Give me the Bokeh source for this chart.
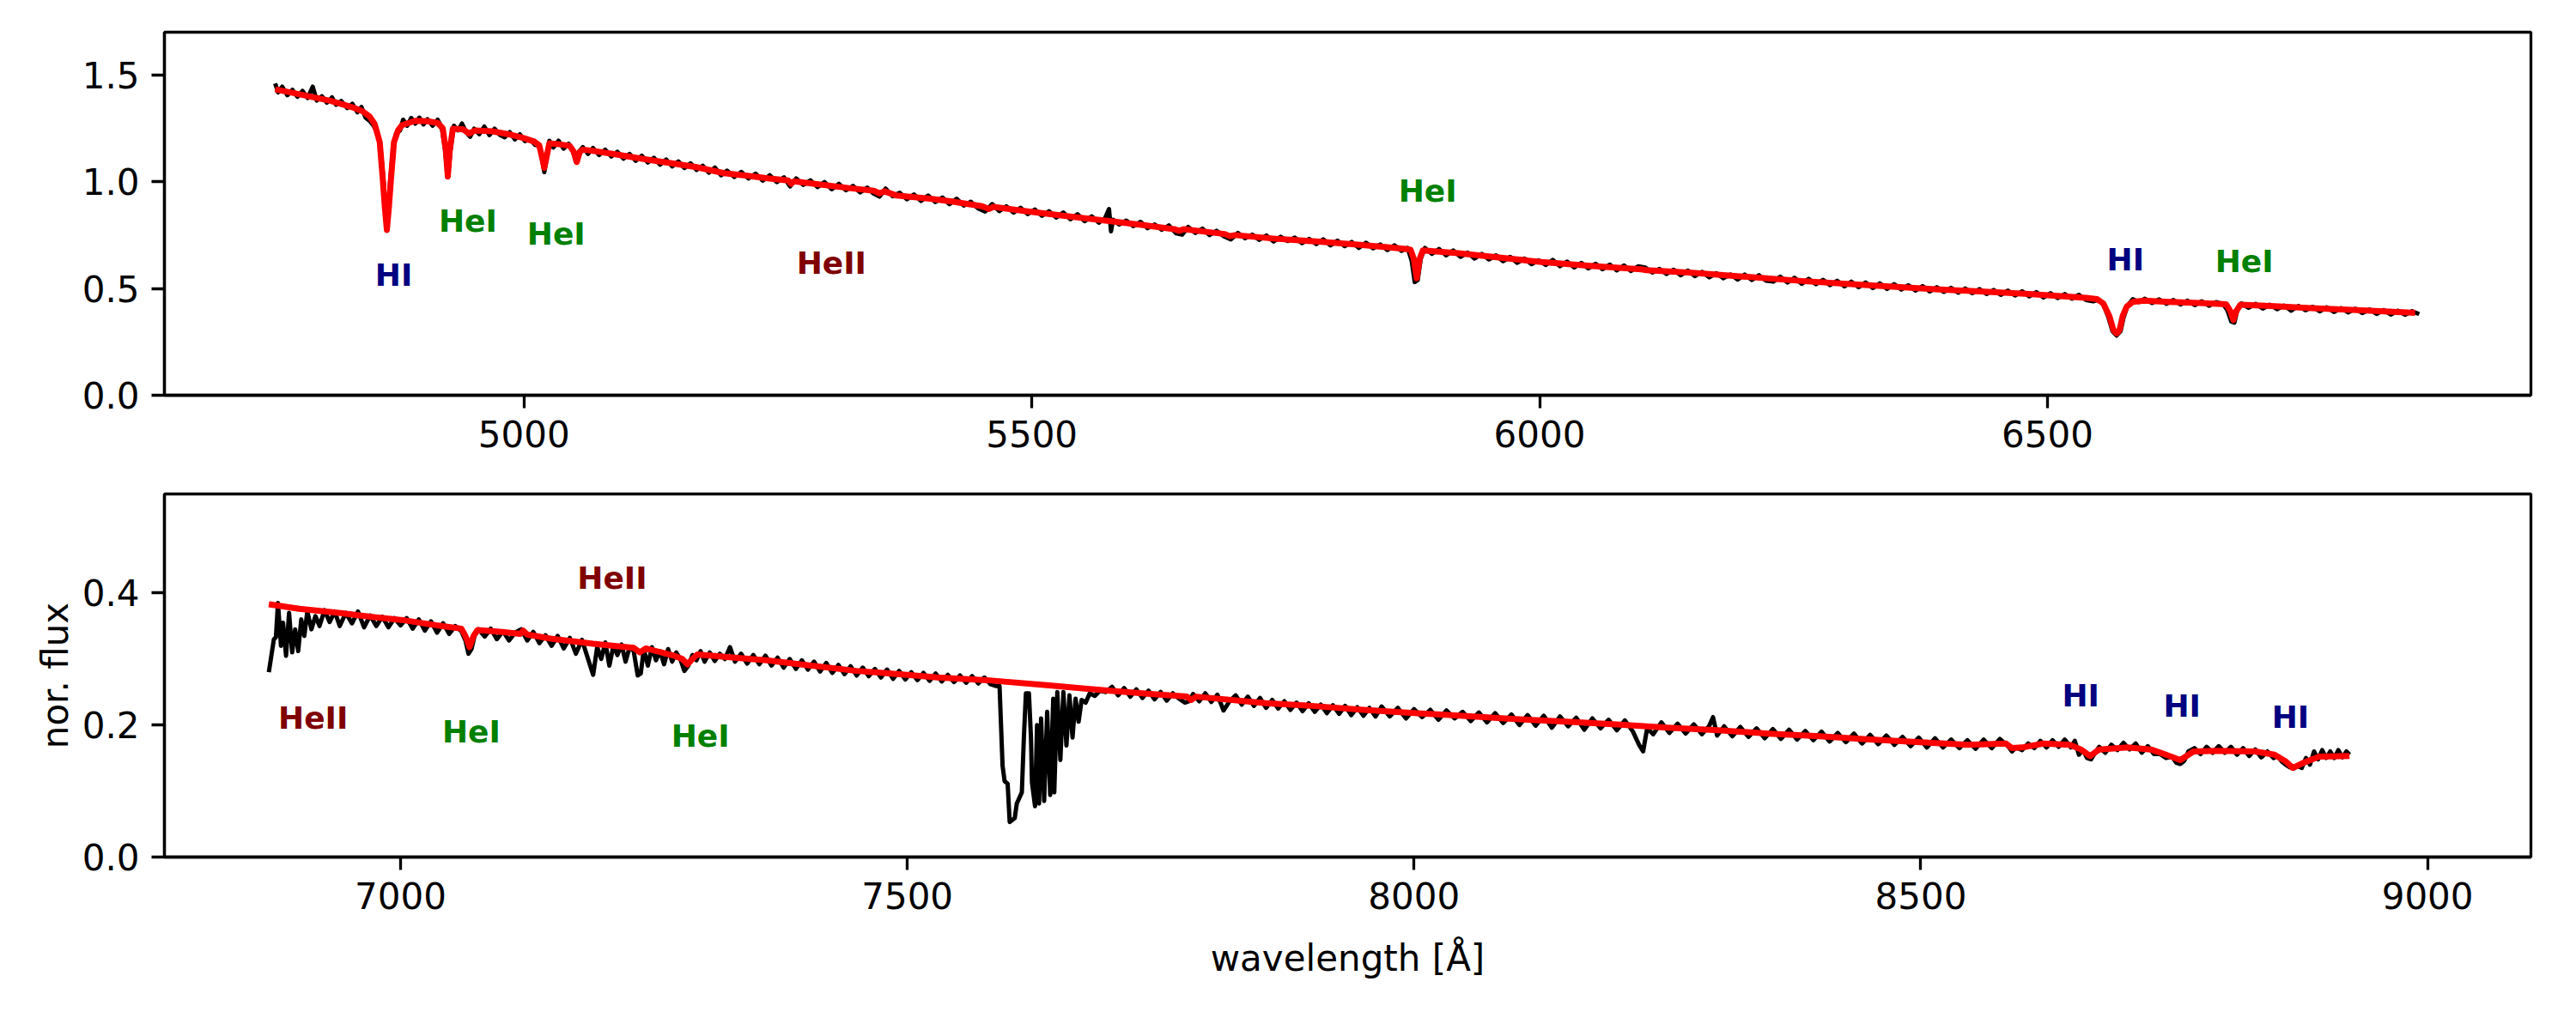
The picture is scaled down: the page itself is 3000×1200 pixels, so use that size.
from bokeh.plotting import figure
from bokeh.layouts import column
from bokeh.models import ColumnDataSource, FixedTicker, NumeralTickFormatter, Range1d
from bokeh.core.properties import value
from bokeh.embed import file_html
from bokeh.resources import INLINE

# ---------------- data: upper panel (observed spectrum, black) ----------------
top_obs_wl = [
    4755, 4758, 4762, 4767, 4772, 4777, 4782, 4787, 4792, 4796, 4801, 4806, 4811, 4815, 4820, 4826, 4831, 4836, 4840,
    4844, 4848, 4852, 4856, 4859, 4862, 4865, 4868, 4871, 4874, 4878, 4881, 4885,
    4889, 4893, 4897, 4901, 4905, 4910, 4915, 4919,
    4922, 4925, 4928, 4931,
    4935, 4939, 4943, 4947, 4951, 4956, 4961, 4966, 4971, 4976, 4981, 4986, 4991, 4996, 5001, 5006, 5011, 5015,
    5018, 5020, 5022,
    5025, 5029, 5034, 5039, 5044, 5048, 5051, 5054, 5058,
    5063, 5068, 5074, 5080, 5086, 5092, 5098, 5104, 5110, 5116, 5122, 5128, 5134, 5140, 5146, 5152, 5158, 5164,
    5170, 5176, 5182, 5188, 5194, 5200,
    5207, 5214, 5221, 5228, 5235, 5242, 5249, 5256, 5262, 5268, 5275, 5282, 5289, 5296, 5303, 5310, 5317, 5324,
    5331, 5338, 5344, 5350,
    5356, 5363, 5370, 5377, 5384, 5391, 5398, 5405, 5412, 5419, 5426, 5433, 5440, 5447, 5454, 5461, 5468, 5475,
    5482, 5489, 5496, 5503, 5510, 5517, 5524, 5531, 5538, 5545, 5552, 5559, 5566,
    5572, 5576, 5578, 5580, 5586, 5593, 5600, 5607, 5614, 5621, 5628, 5635, 5642, 5648, 5654, 5661, 5668, 5675,
    5682, 5689, 5696, 5703, 5710, 5717, 5724, 5731, 5738, 5745, 5752, 5759, 5766, 5773, 5780, 5787, 5794, 5801,
    5808, 5815, 5822, 5829, 5836, 5843, 5850, 5857, 5864,
    5870, 5874, 5877, 5880, 5883,
    5887, 5894, 5901, 5908, 5915, 5922, 5929, 5936, 5943, 5950, 5957, 5964, 5971, 5978, 5985, 5992, 5999, 6006,
    6013, 6020, 6027, 6034, 6041, 6048, 6055, 6062, 6069, 6076, 6083, 6090, 6097, 6104, 6111,
    6118, 6125, 6132, 6139, 6146, 6153, 6160, 6167, 6174, 6181, 6188, 6195, 6202, 6209, 6216, 6223, 6230, 6237,
    6244, 6251, 6258, 6265, 6272, 6279, 6286, 6293, 6300, 6307, 6314, 6321, 6328, 6335, 6342, 6349, 6356, 6363,
    6370, 6377,
    6384, 6391, 6398, 6405, 6412, 6419, 6426, 6433, 6440, 6447, 6454, 6461, 6468, 6475, 6482, 6489, 6496, 6503,
    6510, 6517, 6524, 6531, 6538, 6545,
    6550, 6555, 6560, 6564, 6568, 6572, 6575, 6579, 6584,
    6590, 6596, 6603, 6610, 6617, 6624, 6631, 6638, 6645, 6652, 6659, 6666, 6673,
    6677, 6681, 6684, 6687, 6691,
    6698, 6705, 6712, 6719, 6726, 6733, 6740, 6747, 6754, 6761, 6768, 6775, 6782, 6789, 6796, 6803, 6810, 6817,
    6824, 6831, 6838, 6845, 6852, 6859, 6866]
top_obs_flux = [
    1.460, 1.418, 1.445, 1.405, 1.430, 1.398, 1.425, 1.392, 1.445, 1.380, 1.400, 1.370, 1.395, 1.360, 1.378, 1.345, 1.365, 1.325, 1.350,
    1.300, 1.285, 1.262, 1.225, 1.150, 0.990, 0.770, 0.990, 1.150, 1.225, 1.240, 1.290, 1.262,
    1.298, 1.272, 1.300, 1.268, 1.292, 1.262, 1.290, 1.255,
    1.160, 1.020, 1.160, 1.262,
    1.240, 1.272, 1.232, 1.210, 1.248, 1.222, 1.258, 1.218, 1.248, 1.220, 1.208, 1.232, 1.198, 1.222, 1.190, 1.198, 1.172, 1.168,
    1.100, 1.045, 1.100,
    1.192, 1.160, 1.192, 1.155, 1.178, 1.145, 1.095, 1.140, 1.162,
    1.130, 1.158, 1.125, 1.150, 1.118, 1.140, 1.108, 1.130, 1.098, 1.122, 1.090, 1.112, 1.080, 1.104, 1.072, 1.095, 1.064, 1.086,
    1.055, 1.075, 1.042, 1.066, 1.030, 1.052,
    1.022, 1.046, 1.015, 1.038, 1.005, 1.030, 0.998, 1.020, 0.978, 1.015, 0.985, 1.006, 0.975, 0.998, 0.965, 0.990, 0.960, 0.980,
    0.950, 0.972, 0.945, 0.930,
    0.968, 0.932, 0.948, 0.918, 0.940, 0.910, 0.935, 0.905, 0.926, 0.895, 0.920, 0.888, 0.906, 0.875, 0.860, 0.895, 0.862, 0.885,
    0.855, 0.878, 0.848, 0.870, 0.840, 0.862, 0.832, 0.856, 0.824, 0.848, 0.815, 0.838, 0.808,
    0.828, 0.872, 0.768, 0.822, 0.800, 0.818, 0.792, 0.812, 0.782, 0.800, 0.775, 0.795, 0.758, 0.752, 0.788, 0.760, 0.780, 0.750,
    0.770, 0.745, 0.730, 0.760, 0.735, 0.752, 0.728, 0.748, 0.720, 0.742, 0.722, 0.738, 0.712, 0.732, 0.708, 0.730, 0.702, 0.724,
    0.698, 0.718, 0.690, 0.714, 0.688, 0.706, 0.680, 0.702, 0.676,
    0.690, 0.630, 0.530, 0.540, 0.640,
    0.690, 0.662, 0.685, 0.655, 0.678, 0.648, 0.668, 0.640, 0.662, 0.636, 0.655, 0.628, 0.648, 0.620, 0.640, 0.614, 0.632, 0.610,
    0.634, 0.604, 0.626, 0.598, 0.620, 0.594, 0.616, 0.590, 0.612, 0.585, 0.608, 0.582, 0.604, 0.598, 0.575,
    0.592, 0.568, 0.588, 0.562, 0.584, 0.558, 0.578, 0.552, 0.572, 0.548, 0.566, 0.542, 0.565, 0.540, 0.562, 0.536, 0.532, 0.555,
    0.528, 0.550, 0.522, 0.545, 0.520, 0.540, 0.516, 0.536, 0.510, 0.532, 0.506, 0.528, 0.502, 0.524, 0.498, 0.520, 0.495, 0.515,
    0.490, 0.511,
    0.486, 0.506, 0.484, 0.503, 0.480, 0.500, 0.478, 0.497, 0.474, 0.493, 0.470, 0.490, 0.467, 0.487, 0.463, 0.483, 0.458, 0.478,
    0.455, 0.474, 0.452, 0.470, 0.446, 0.440,
    0.448, 0.425, 0.365, 0.300, 0.280, 0.300, 0.365, 0.420, 0.450,
    0.436, 0.452, 0.432, 0.449, 0.428, 0.446, 0.425, 0.443, 0.422, 0.440, 0.419, 0.436, 0.426,
    0.400, 0.345, 0.340, 0.400, 0.430,
    0.410, 0.428, 0.406, 0.424, 0.403, 0.420, 0.396, 0.418, 0.398, 0.414, 0.393, 0.412, 0.390, 0.408, 0.388, 0.405, 0.385, 0.402,
    0.381, 0.399, 0.378, 0.396, 0.377, 0.394, 0.380]

# upper panel model (red)
top_mod_wl = [4755, 4770, 4790, 4810, 4830, 4841, 4848, 4853, 4858, 4861, 4863, 4865, 4867, 4869, 4872, 4876,
              4880, 4893, 4905, 4915, 4920, 4923, 4925, 4927, 4930, 4940, 4946, 4952, 4969, 4985, 4999, 5010,
              5015, 5018, 5020, 5022, 5025, 5035, 5045, 5049, 5052, 5055, 5058, 5070, 5090, 5110, 5130, 5150,
              5170, 5197, 5220, 5240, 5260, 5263, 5266, 5290, 5320, 5345, 5350, 5355, 5367, 5400, 5420, 5451,
              5458, 5462, 5494, 5536, 5578, 5610, 5640, 5645, 5650, 5670, 5690, 5695, 5700, 5740, 5780, 5818,
              5850, 5868, 5873, 5876, 5879, 5882, 5885, 5920, 5960, 6002, 6050, 6100, 6105, 6150, 6200, 6261,
              6320, 6390, 6425, 6482, 6538, 6549, 6555, 6561, 6565, 6568, 6571, 6574, 6578, 6584, 6595, 6620,
              6650, 6676, 6680, 6683, 6686, 6690, 6720, 6760, 6800, 6840, 6862]
top_mod_flux = [1.432, 1.418, 1.398, 1.378, 1.350, 1.330, 1.305, 1.270, 1.185, 1.010, 0.880, 0.775, 0.880, 1.010, 1.185, 1.240,
                1.265, 1.285, 1.283, 1.275, 1.250, 1.150, 1.025, 1.150, 1.248, 1.245, 1.225, 1.240, 1.236, 1.222, 1.205, 1.188,
                1.170, 1.110, 1.065, 1.110, 1.180, 1.175, 1.168, 1.140, 1.092, 1.140, 1.150, 1.143, 1.128, 1.112, 1.097, 1.083,
                1.068, 1.040, 1.028, 1.016, 1.006, 0.990, 1.002, 0.988, 0.970, 0.957, 0.945, 0.955, 0.935, 0.920, 0.908, 0.885,
                0.872, 0.882, 0.862, 0.838, 0.815, 0.797, 0.778, 0.770, 0.778, 0.766, 0.755, 0.745, 0.750, 0.733, 0.720, 0.706,
                0.693, 0.685, 0.681, 0.640, 0.548, 0.640, 0.678, 0.665, 0.645, 0.624, 0.606, 0.590, 0.586, 0.574, 0.556, 0.534,
                0.516, 0.496, 0.488, 0.474, 0.456, 0.450, 0.430, 0.370, 0.305, 0.290, 0.305, 0.370, 0.415, 0.437, 0.443, 0.437,
                0.432, 0.426, 0.395, 0.352, 0.395, 0.424, 0.418, 0.408, 0.400, 0.391, 0.386]

# ---------------- data: lower panel (observed spectrum, black) ----------------
bot_obs_wl = [
    6870, 6872, 6875, 6877, 6879, 6882, 6884, 6887, 6890, 6893, 6896, 6899, 6902, 6905, 6908, 6912,
    6916, 6920, 6925, 6930, 6935, 6940, 6946, 6952, 6958, 6964, 6970, 6976, 6982, 6988, 6994, 7000,
    7006, 7012, 7018, 7024, 7030, 7036, 7042, 7048, 7054, 7060, 7064, 7067, 7070, 7073, 7077, 7083,
    7089, 7095, 7101, 7107, 7113, 7119, 7125, 7131, 7137, 7143, 7149, 7155, 7161, 7167, 7173, 7179,
    7185, 7190, 7194, 7198, 7202, 7206, 7210, 7214, 7218, 7222, 7226, 7230, 7234, 7237, 7240, 7244,
    7248, 7252, 7256, 7260, 7264, 7268, 7272, 7276, 7280, 7284, 7288, 7292, 7296, 7300, 7305, 7310,
    7315, 7320, 7325, 7330, 7336, 7342, 7348, 7354, 7360, 7366, 7372, 7378, 7384, 7390, 7396, 7402,
    7408, 7414, 7420, 7426, 7432, 7438, 7444, 7450, 7456, 7462, 7468, 7474, 7480, 7486, 7492, 7498,
    7504, 7510, 7516, 7522, 7528, 7534, 7540, 7546, 7552, 7558, 7564, 7570, 7576, 7582, 7588, 7591,
    7594, 7596, 7599, 7601, 7606, 7608, 7613, 7615, 7617, 7620, 7622, 7623, 7626, 7628, 7630, 7632,
    7635, 7638, 7641, 7644, 7645, 7648, 7651, 7654, 7657, 7660, 7663, 7666, 7669, 7672, 7676, 7680,
    7685, 7690, 7696, 7702, 7708, 7714, 7720, 7726, 7732, 7738, 7744, 7750, 7756, 7762, 7768, 7774,
    7778, 7782, 7788, 7794, 7800, 7806, 7812, 7818, 7824, 7830, 7836, 7842, 7848, 7854, 7860, 7866,
    7872, 7878, 7884, 7890, 7896, 7902, 7908, 7914, 7920, 7926, 7932, 7938, 7944, 7950, 7956, 7962,
    7968, 7976, 7984, 7992, 8000, 8008, 8016, 8024, 8032, 8040,
    8048, 8056, 8064, 8072, 8080, 8088, 8096, 8104, 8112, 8120,
    8128, 8136, 8144, 8152, 8160, 8168, 8176, 8184, 8192, 8200,
    8208, 8216, 8222, 8226, 8230, 8236, 8244, 8252, 8260, 8268,
    8276, 8284, 8291, 8295, 8299, 8306, 8314, 8322, 8330, 8338,
    8346, 8354, 8362, 8370, 8378, 8386, 8394, 8402, 8410, 8418,
    8426, 8434, 8442, 8450, 8458, 8466, 8474, 8482, 8490, 8498,
    8506, 8514, 8522, 8530, 8538, 8546, 8554, 8562, 8570, 8578,
    8586, 8590, 8594, 8600, 8606, 8612, 8618,
    8624, 8630, 8636, 8642, 8648, 8652, 8656, 8660, 8664, 8668, 8672, 8676, 8682, 8688, 8694, 8700,
    8706, 8712, 8718, 8724, 8730, 8736, 8742, 8748, 8752, 8756, 8760, 8764, 8770, 8776, 8782, 8788,
    8794, 8800, 8806, 8812, 8818, 8824, 8830, 8836, 8842, 8848, 8852, 8856, 8860, 8864, 8868, 8872,
    8876, 8880, 8884, 8888, 8892, 8896, 8900, 8904, 8908, 8912, 8916, 8920, 8923]
bot_obs_flux = [
    0.280, 0.300, 0.330, 0.333, 0.385, 0.320, 0.355, 0.305, 0.370, 0.310, 0.345, 0.312, 0.360, 0.335, 0.372, 0.345,
    0.365, 0.350, 0.374, 0.356, 0.372, 0.350, 0.370, 0.354, 0.372, 0.348, 0.366, 0.350, 0.364, 0.348, 0.362, 0.351,
    0.362, 0.346, 0.360, 0.343, 0.357, 0.340, 0.354, 0.338, 0.350, 0.342, 0.328, 0.308, 0.315, 0.335, 0.345, 0.334,
    0.346, 0.330, 0.342, 0.328, 0.340, 0.345, 0.328, 0.341, 0.324, 0.336, 0.320, 0.335, 0.316, 0.332, 0.308, 0.329,
    0.300, 0.276, 0.318, 0.300, 0.325, 0.290, 0.320, 0.306, 0.322, 0.296, 0.318, 0.312, 0.275, 0.278, 0.315, 0.290,
    0.318, 0.298, 0.312, 0.292, 0.315, 0.296, 0.310, 0.300, 0.282, 0.290, 0.306, 0.298, 0.312, 0.296, 0.310, 0.297,
    0.308, 0.300, 0.318, 0.296, 0.308, 0.293, 0.306, 0.292, 0.305, 0.290, 0.302, 0.287, 0.300, 0.285, 0.298, 0.284,
    0.296, 0.281, 0.294, 0.279, 0.291, 0.277, 0.289, 0.275, 0.287, 0.274, 0.285, 0.272, 0.284, 0.270, 0.282, 0.269,
    0.280, 0.268, 0.279, 0.267, 0.278, 0.266, 0.276, 0.265, 0.275, 0.264, 0.274, 0.263, 0.272, 0.262, 0.259, 0.259,
    0.138, 0.115, 0.111, 0.053, 0.059, 0.081, 0.098, 0.181, 0.248, 0.248, 0.181, 0.113, 0.077, 0.200, 0.081, 0.210,
    0.085, 0.220, 0.094, 0.240, 0.098, 0.250, 0.147, 0.250, 0.169, 0.245, 0.181, 0.240, 0.205, 0.238, 0.234, 0.248,
    0.244, 0.252, 0.250, 0.258, 0.245, 0.256, 0.243, 0.254, 0.241, 0.252, 0.239, 0.250, 0.237, 0.248, 0.240, 0.234,
    0.236, 0.247, 0.236, 0.248, 0.235, 0.246, 0.222, 0.236, 0.245, 0.231, 0.243, 0.229, 0.241, 0.226, 0.238, 0.225,
    0.236, 0.223, 0.234, 0.221, 0.233, 0.220, 0.231, 0.218, 0.230, 0.217, 0.229, 0.215, 0.227, 0.214, 0.226, 0.213,
    0.228, 0.213, 0.226, 0.210, 0.224, 0.212, 0.223, 0.208, 0.222, 0.210,
    0.220, 0.206, 0.219, 0.204, 0.218, 0.203, 0.216, 0.200, 0.215, 0.199,
    0.214, 0.196, 0.213, 0.198, 0.211, 0.193, 0.210, 0.195, 0.208, 0.192,
    0.207, 0.190, 0.170, 0.160, 0.195, 0.186, 0.204, 0.188, 0.202, 0.187,
    0.201, 0.186, 0.198, 0.212, 0.184, 0.198, 0.183, 0.197, 0.182, 0.195,
    0.180, 0.194, 0.179, 0.193, 0.178, 0.191, 0.177, 0.190, 0.175, 0.188,
    0.174, 0.187, 0.172, 0.185, 0.171, 0.184, 0.170, 0.182, 0.168, 0.181,
    0.166, 0.180, 0.166, 0.178, 0.165, 0.177, 0.164, 0.178, 0.165, 0.179,
    0.168, 0.160, 0.166, 0.162, 0.172, 0.165, 0.176,
    0.166, 0.177, 0.167, 0.178, 0.166, 0.176, 0.155, 0.162, 0.150, 0.148, 0.158, 0.167, 0.158, 0.170, 0.162, 0.173,
    0.163, 0.172, 0.158, 0.168, 0.156, 0.156, 0.150, 0.152, 0.143, 0.141, 0.146, 0.160, 0.165, 0.156, 0.167, 0.158,
    0.168, 0.158, 0.167, 0.155, 0.165, 0.153, 0.163, 0.151, 0.160, 0.150, 0.153, 0.145, 0.140, 0.136, 0.134, 0.138,
    0.135, 0.150, 0.140, 0.160, 0.148, 0.162, 0.150, 0.160, 0.150, 0.162, 0.151, 0.160, 0.155]

# lower panel model (red)
bot_mod_wl = [6870, 6900, 6939, 6970, 7002, 7040, 7060, 7064, 7068, 7072, 7076, 7100, 7118, 7121, 7125, 7148,
              7190, 7230, 7236, 7242, 7270, 7278, 7283, 7288, 7293, 7330, 7361, 7400, 7450, 7500, 7530, 7578,
              7640, 7700, 7740, 7776, 7780, 7785, 7854, 7899, 7950, 8000, 8038, 8100, 8150, 8200, 8250, 8300,
              8350, 8400, 8450, 8500, 8546, 8584, 8590, 8600, 8621, 8647, 8658, 8667, 8676, 8704, 8727, 8742,
              8756, 8769, 8792, 8830, 8849, 8860, 8867, 8878, 8893, 8923]
bot_mod_flux = [0.383, 0.376, 0.370, 0.364, 0.359, 0.350, 0.346, 0.335, 0.318, 0.335, 0.344, 0.341, 0.338, 0.343, 0.337, 0.331,
                0.323, 0.317, 0.310, 0.316, 0.305, 0.300, 0.292, 0.300, 0.307, 0.302, 0.298, 0.291, 0.282, 0.276, 0.272, 0.268,
                0.260, 0.252, 0.247, 0.243, 0.238, 0.243, 0.233, 0.229, 0.223, 0.218, 0.215, 0.209, 0.205, 0.201, 0.196, 0.192,
                0.187, 0.183, 0.178, 0.174, 0.170, 0.172, 0.165, 0.166, 0.172, 0.170, 0.163, 0.153, 0.163, 0.166, 0.163, 0.155,
                0.147, 0.160, 0.161, 0.160, 0.155, 0.145, 0.135, 0.143, 0.152, 0.153]

# ---------------- line identifications ----------------
top_label_text = ["HI", "HeI", "HeI", "HeII", "HeI", "HI", "HeI"]
top_label_wl = [4865, 4938, 5025, 5296, 5883, 6570, 6687]
top_label_flux = [0.595, 0.847, 0.786, 0.650, 0.990, 0.666, 0.661]
bot_label_text = ["HeII", "HeI", "HeII", "HeI", "HI", "HI", "HI"]
bot_label_wl = [6907, 7063, 7202, 7289, 8651, 8751, 8858]
bot_label_flux = [0.221, 0.200, 0.433, 0.194, 0.255, 0.239, 0.222]
species_color = {"HI": "#000080", "HeI": "#008000", "HeII": "#800000"}

top_xticks = [5000, 5500, 6000, 6500]
top_yticks = [0.0, 0.5, 1.0, 1.5]
bot_xticks = [7000, 7500, 8000, 8500, 9000]
bot_yticks = [0.0, 0.2, 0.4]

FONT = "DejaVu Sans"
W = 2984


def style(p, xticks, yticks):
    p.xgrid.visible = False
    p.ygrid.visible = False
    p.outline_line_color = "black"
    p.outline_line_width = 3.3
    p.outline_line_alpha = 1.0
    p.xaxis.ticker = FixedTicker(ticks=xticks)
    p.yaxis.ticker = FixedTicker(ticks=yticks)
    p.yaxis.formatter = NumeralTickFormatter(format="0.0")
    for ax in (p.xaxis[0], p.yaxis[0]):
        ax.axis_line_width = 3.3
        ax.major_tick_line_width = 3.3
        ax.major_tick_out = 15
        ax.major_tick_in = 0
        ax.minor_tick_out = 0
        ax.minor_tick_in = 0
        ax.major_label_standoff = 14
        ax.major_label_text_font = FONT
        ax.major_label_text_font_size = "42px"
        ax.major_label_text_color = "black"
        ax.axis_label_text_font = FONT
        ax.axis_label_text_font_size = "42px"
        ax.axis_label_text_font_style = "normal"
        ax.axis_label_text_color = "black"


def draw(p, obs_wl, obs_flux, mod_wl, mod_flux, lab_wl, lab_flux, lab_text):
    p.line(obs_wl, obs_flux, line_color="black", line_width=5, line_join="round")
    p.line(mod_wl, mod_flux, line_color="red", line_width=7, line_join="round")
    src = ColumnDataSource(dict(x=lab_wl, y=lab_flux, t=lab_text,
                                c=[species_color[s] for s in lab_text]))
    p.text(x="x", y="y", text="t", text_color="c", source=src,
           text_font=value(FONT), text_font_style="bold", text_font_size="36px",
           text_align="center", text_baseline="middle", x_offset=8, y_offset=8)


p1 = figure(width=W, height=545, output_backend="svg", toolbar_location=None,
            x_range=Range1d(4646, 6976), y_range=Range1d(0, 1.7),
            min_border_left=191, min_border_right=37, min_border_top=37, min_border_bottom=85)
style(p1, top_xticks, top_yticks)
draw(p1, top_obs_wl, top_obs_flux, top_mod_wl, top_mod_flux,
     top_label_wl, top_label_flux, top_label_text)

p2 = figure(width=W, height=613, output_backend="svg", toolbar_location=None,
            x_range=Range1d(6767, 9102), y_range=Range1d(0, 0.55),
            min_border_left=191, min_border_right=37, min_border_top=30, min_border_bottom=160)
style(p2, bot_xticks, bot_yticks)
p2.xaxis.axis_label = "wavelength [Å]"
p2.yaxis.axis_label = "nor. flux"
p2.xaxis.axis_label_standoff = 30
p2.yaxis.axis_label_standoff = 4
draw(p2, bot_obs_wl, bot_obs_flux, bot_mod_wl, bot_mod_flux,
     bot_label_wl, bot_label_flux, bot_label_text)

layout = column(p1, p2, spacing=0)
open("out.html", "w").write(file_html(layout, INLINE))
